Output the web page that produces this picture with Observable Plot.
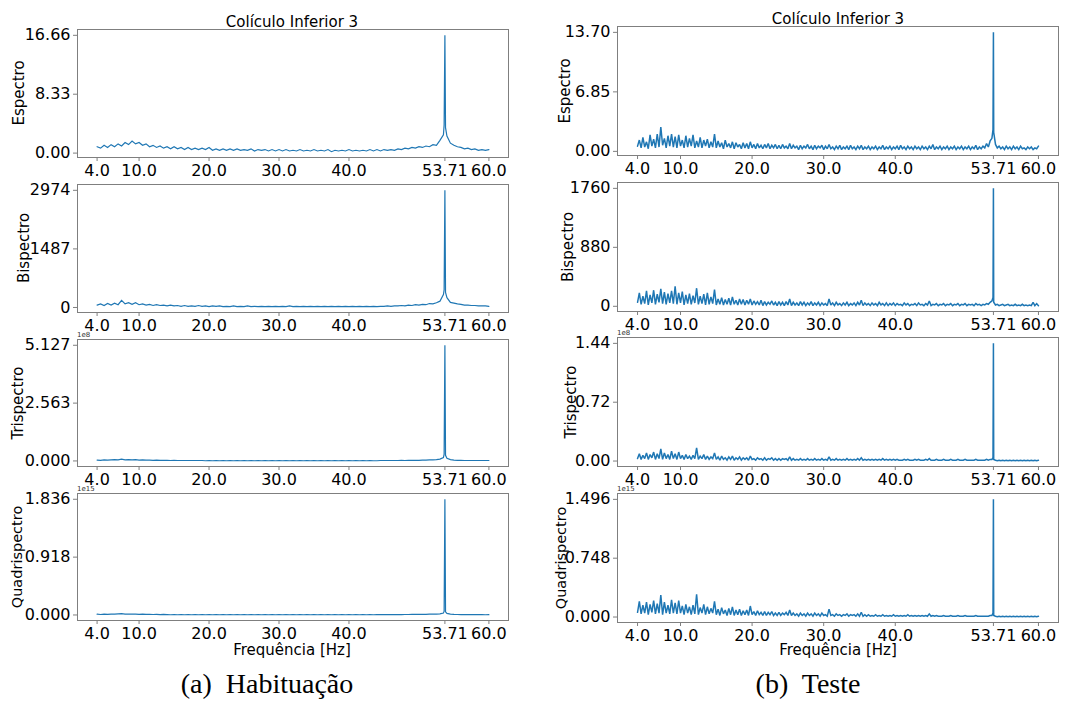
<!DOCTYPE html>
<html><head><meta charset="utf-8">
<script src="https://cdn.jsdelivr.net/npm/d3@7"></script>
<script src="https://cdn.jsdelivr.net/npm/@observablehq/plot@0.6"></script>
<style>
body{margin:0;background:#fff;}
#fig{position:relative;width:1073px;height:704px;font-family:"DejaVu Sans",sans-serif;overflow:hidden;background:#fff}
.abs{position:absolute;white-space:pre;line-height:1;transform:translate(-50%,-50%)}
.rot{transform:translate(-50%,-50%) rotate(-90deg)}
.panel{position:absolute}
</style></head><body><div id="fig"></div>
<script>
// ---------------- DATA ----------------
const freqStart = 4.0;
const stepHab = 0.5;    // Hz between samples, left column (Habituação)
const stepTst = 0.25;   // Hz between samples, right column (Teste)
const peakFreqHab = [53.6, 53.71, 53.8];
const peakFreqTst = [53.65, 53.71];

// Habituação (left column)
const habEspectro = [
0.9,0.7,1.1,0.8,1.2,0.9,1.3,1.0,1.5,1.2,
1.7,1.3,1.5,1.1,1.3,0.9,1.1,0.8,1.0,0.7,
0.9,0.6,0.9,0.6,0.8,0.5,0.8,0.5,0.7,0.5,
0.7,0.5,0.8,0.4,0.6,0.4,0.6,0.4,0.6,0.4,
0.6,0.4,0.5,0.4,0.6,0.3,0.5,0.4,0.5,0.3,
0.5,0.3,0.5,0.3,0.5,0.3,0.4,0.3,0.5,0.3,
0.4,0.3,0.5,0.3,0.4,0.3,0.5,0.2,0.4,0.3,
0.4,0.3,0.5,0.3,0.4,0.3,0.4,0.3,0.5,0.3,
0.5,0.3,0.5,0.4,0.5,0.4,0.6,0.5,0.7,0.6,
0.8,0.7,0.9,0.8,1.0,0.9,1.2,1.1,1.8,2.6,
2.4,1.4,1.1,0.9,0.8,0.6,0.7,0.5,0.6,0.4,
0.5,0.4,0.5];
const habEspectroPeak = [4.0, 16.66, 3.6];

const habBispectro = [
60,90,50,100,60,110,70,180,90,120,
80,120,70,90,60,80,50,70,50,60,
40,60,40,50,30,50,30,40,30,50,
30,40,20,40,30,40,20,30,20,40,
20,30,20,40,20,30,20,30,20,30,
20,30,20,30,20,40,20,30,20,30,
20,30,20,30,20,30,20,30,20,30,
20,30,20,30,20,30,20,30,20,30,
20,30,30,40,30,40,40,50,40,60,
50,70,60,80,70,100,90,120,160,330,
250,130,110,90,80,60,60,50,50,40,
40,40,30];
const habBispectroPeak = [450, 2974, 380];

const habTrispectro = [ // ×1e8
0.04,0.03,0.05,0.04,0.05,0.06,0.05,0.08,0.05,0.06,
0.05,0.06,0.04,0.05,0.04,0.04,0.03,0.04,0.03,0.03,
0.03,0.02,0.03,0.02,0.02,0.02,0.02,0.02,0.02,0.02,
0.02,0.01,0.02,0.01,0.02,0.01,0.02,0.01,0.02,0.01,
0.02,0.01,0.02,0.01,0.02,0.01,0.02,0.01,0.02,0.01,
0.02,0.01,0.02,0.01,0.02,0.01,0.02,0.01,0.02,0.01,
0.02,0.01,0.02,0.01,0.02,0.01,0.02,0.01,0.02,0.01,
0.02,0.01,0.02,0.01,0.02,0.01,0.02,0.01,0.02,0.01,
0.01,0.02,0.02,0.02,0.02,0.02,0.02,0.03,0.02,0.03,
0.03,0.03,0.03,0.04,0.04,0.05,0.05,0.06,0.08,0.15,
0.12,0.06,0.04,0.03,0.03,0.02,0.02,0.02,0.02,0.02,
0.02,0.02,0.02];
const habTrispectroPeak = [0.30, 5.127, 0.25];

const habQuadrispectro = [ // ×1e15
0.012,0.008,0.015,0.010,0.014,0.012,0.016,0.020,0.014,0.015,
0.012,0.014,0.010,0.012,0.009,0.010,0.008,0.009,0.007,0.008,
0.006,0.004,0.006,0.004,0.006,0.004,0.006,0.004,0.006,0.004,
0.006,0.004,0.006,0.004,0.006,0.004,0.006,0.004,0.006,0.004,
0.006,0.004,0.006,0.004,0.006,0.004,0.006,0.004,0.006,0.004,
0.006,0.004,0.006,0.004,0.006,0.004,0.006,0.004,0.006,0.004,
0.006,0.004,0.006,0.004,0.006,0.004,0.006,0.004,0.006,0.004,
0.006,0.004,0.006,0.004,0.006,0.004,0.006,0.004,0.006,0.004,
0.005,0.005,0.006,0.005,0.006,0.006,0.007,0.007,0.008,0.008,
0.009,0.009,0.010,0.010,0.011,0.012,0.013,0.014,0.018,0.030,
0.025,0.014,0.010,0.008,0.007,0.006,0.006,0.005,0.005,0.005,
0.005,0.004,0.005];
const habQuadrispectroPeak = [0.06, 1.836, 0.05];

// Teste (right column)
const tstEspectro = [
0.6,1.3,0.4,1.6,0.5,1.1,0.3,1.9,0.6,1.4,0.4,2.0,0.5,2.8,0.7,1.5,0.4,1.8,0.6,2.0,
0.5,1.7,0.4,1.9,0.6,1.3,0.4,1.8,0.5,1.5,0.6,1.9,0.4,1.2,0.5,1.6,0.4,1.3,0.6,1.4,
0.4,1.1,0.5,2.0,0.4,1.2,0.5,1.0,0.3,1.3,0.5,0.9,0.4,1.1,0.3,1.0,0.5,0.8,0.3,1.0,
0.4,0.9,0.3,1.1,0.4,0.8,0.3,0.9,0.4,0.7,0.3,0.8,0.4,0.9,0.3,0.7,0.4,0.8,0.3,0.7,
0.3,0.8,0.4,0.6,0.3,0.9,0.3,0.7,0.4,0.6,0.2,0.7,0.3,0.6,0.4,0.8,0.3,0.6,0.2,0.7,
0.3,0.6,0.4,0.7,0.2,0.6,0.3,0.8,0.3,0.5,0.2,0.6,0.3,0.7,0.2,0.5,0.3,0.6,0.2,0.7,
0.3,0.5,0.2,0.6,0.3,0.7,0.2,0.5,0.3,0.6,0.2,0.5,0.3,0.6,0.2,0.5,0.3,0.7,0.2,0.5,
0.3,0.6,0.2,0.5,0.3,0.6,0.2,0.7,0.3,0.5,0.2,0.6,0.3,0.5,0.2,0.6,0.3,0.5,0.2,0.6,
0.3,0.5,0.2,0.6,0.3,0.8,0.2,0.5,0.3,0.6,0.2,0.5,0.3,0.6,0.2,0.5,0.3,0.6,0.2,0.5,
0.3,0.6,0.2,0.5,0.3,0.6,0.2,0.5,0.3,0.7,0.2,0.5,0.3,0.6,0.4,0.9,0.5,1.2,1.5,2.2,
0.8,0.4,0.6,0.3,0.5,0.2,0.6,0.3,0.5,0.2,0.6,0.3,0.5,0.2,0.6,0.3,0.4,0.2,0.5,0.3,
0.5,0.2,0.4,0.3,0.6];
const tstEspectroPeak = [2.5, 13.70];

const tstBispectro = [
60,200,30,150,40,230,20,170,50,240,30,180,60,260,40,210,30,190,50,230,
40,300,30,200,50,220,20,170,40,190,30,160,50,270,30,150,40,180,20,200,
30,140,40,250,20,110,30,130,20,100,30,120,20,140,30,90,20,110,30,100,
20,90,30,110,20,80,30,70,20,90,10,70,20,60,30,80,20,60,10,70,
20,60,10,70,20,110,10,60,20,50,10,70,20,60,10,50,20,70,10,50,
20,60,10,50,20,40,10,110,20,50,10,60,20,40,10,50,20,60,10,40,
20,50,10,60,20,90,10,50,20,40,10,50,20,40,10,60,20,40,10,50,
10,40,20,50,10,40,20,30,10,50,20,40,10,30,20,40,10,50,20,30,
10,40,20,80,10,30,20,40,10,30,20,40,10,30,20,40,10,30,20,40,
10,30,20,40,10,30,20,30,10,40,20,30,10,30,20,40,30,60,80,60,
20,30,10,20,30,10,20,30,10,20,10,30,10,20,10,30,10,20,10,20,
10,60,10,40,10];
const tstBispectroPeak = [130, 1760];

const tstTrispectro = [ // ×1e8
0.03,0.09,0.02,0.07,0.03,0.10,0.02,0.08,0.04,0.11,0.02,0.09,0.03,0.15,0.02,0.10,0.03,0.08,0.02,0.12,
0.03,0.09,0.02,0.11,0.03,0.07,0.02,0.08,0.03,0.06,0.02,0.07,0.03,0.16,0.02,0.06,0.03,0.08,0.02,0.06,
0.02,0.05,0.03,0.10,0.02,0.05,0.01,0.06,0.02,0.04,0.01,0.05,0.02,0.06,0.01,0.04,0.02,0.05,0.01,0.04,
0.02,0.04,0.01,0.06,0.02,0.03,0.01,0.04,0.02,0.03,0.01,0.04,0.01,0.03,0.02,0.04,0.01,0.03,0.01,0.03,
0.01,0.03,0.02,0.03,0.01,0.05,0.01,0.03,0.01,0.02,0.01,0.03,0.01,0.02,0.01,0.03,0.01,0.02,0.01,0.03,
0.01,0.02,0.01,0.03,0.01,0.02,0.01,0.05,0.01,0.02,0.01,0.03,0.01,0.02,0.01,0.02,0.01,0.03,0.01,0.02,
0.01,0.02,0.01,0.03,0.01,0.04,0.01,0.02,0.01,0.02,0.01,0.02,0.01,0.02,0.01,0.02,0.01,0.03,0.01,0.02,
0.01,0.02,0.01,0.02,0.01,0.02,0.01,0.01,0.01,0.02,0.01,0.02,0.01,0.01,0.01,0.02,0.01,0.02,0.01,0.01,
0.01,0.02,0.01,0.03,0.01,0.01,0.01,0.02,0.01,0.01,0.01,0.02,0.01,0.01,0.01,0.02,0.01,0.01,0.01,0.02,
0.01,0.01,0.01,0.02,0.01,0.01,0.01,0.01,0.01,0.02,0.01,0.01,0.01,0.01,0.01,0.02,0.01,0.02,0.02,0.02,
0.01,0.005,0.01,0.005,0.01,0.005,0.01,0.005,0.01,0.005,0.01,0.005,0.01,0.005,0.01,0.005,0.01,0.005,0.01,0.005,
0.01,0.005,0.01,0.005,0.01];
const tstTrispectroPeak = [0.04, 1.44];

const tstQuadrispectro = [ // ×1e15
0.06,0.20,0.04,0.15,0.05,0.19,0.03,0.16,0.06,0.21,0.04,0.17,0.05,0.28,0.03,0.19,0.05,0.15,0.04,0.22,
0.05,0.18,0.04,0.21,0.05,0.14,0.03,0.16,0.05,0.13,0.03,0.15,0.04,0.29,0.03,0.12,0.05,0.16,0.03,0.13,
0.04,0.11,0.05,0.20,0.03,0.10,0.02,0.12,0.04,0.09,0.02,0.11,0.03,0.13,0.02,0.09,0.03,0.10,0.02,0.08,
0.03,0.09,0.02,0.14,0.03,0.07,0.02,0.08,0.03,0.06,0.02,0.07,0.02,0.06,0.03,0.07,0.02,0.05,0.02,0.06,
0.02,0.05,0.03,0.06,0.02,0.09,0.02,0.05,0.02,0.04,0.01,0.05,0.02,0.04,0.01,0.05,0.02,0.04,0.01,0.05,
0.02,0.04,0.01,0.05,0.02,0.03,0.01,0.10,0.02,0.03,0.01,0.04,0.02,0.03,0.01,0.03,0.02,0.04,0.01,0.03,
0.02,0.03,0.01,0.04,0.01,0.06,0.01,0.03,0.01,0.03,0.01,0.02,0.01,0.03,0.01,0.02,0.01,0.03,0.01,0.02,
0.01,0.02,0.01,0.03,0.01,0.02,0.01,0.02,0.01,0.02,0.01,0.03,0.01,0.02,0.01,0.02,0.01,0.02,0.01,0.02,
0.01,0.02,0.01,0.04,0.01,0.02,0.01,0.02,0.01,0.01,0.01,0.02,0.01,0.01,0.01,0.02,0.01,0.01,0.01,0.02,
0.01,0.01,0.01,0.02,0.01,0.01,0.01,0.01,0.01,0.02,0.01,0.01,0.01,0.01,0.01,0.01,0.01,0.02,0.02,0.02,
0.01,0.005,0.01,0.005,0.01,0.005,0.01,0.005,0.01,0.005,0.01,0.005,0.01,0.005,0.01,0.005,0.01,0.005,0.01,0.005,
0.01,0.005,0.01,0.005,0.01];
const tstQuadrispectroPeak = [0.05, 1.496];

// Tick values and labels
const xTickValues = [4, 10, 20, 30, 40, 53.71, 60];
const xTickLabels = ["4.0", "10.0", "20.0", "30.0", "40.0", "53.71", "60.0"];
const yTicksHabEsp = [0, 8.33, 16.66],   yLabelsHabEsp = ["0.00", "8.33", "16.66"];
const yTicksHabBi  = [0, 1487, 2974],    yLabelsHabBi  = ["0", "1487", "2974"];
const yTicksHabTri = [0, 2.563, 5.127],  yLabelsHabTri = ["0.000", "2.563", "5.127"];
const yTicksHabQu  = [0, 0.918, 1.836],  yLabelsHabQu  = ["0.000", "0.918", "1.836"];
const yTicksTstEsp = [0, 6.85, 13.70],   yLabelsTstEsp = ["0.00", "6.85", "13.70"];
const yTicksTstBi  = [0, 880, 1760],     yLabelsTstBi  = ["0", "880", "1760"];
const yTicksTstTri = [0, 0.72, 1.44],    yLabelsTstTri = ["0.00", "0.72", "1.44"];
const yTicksTstQu  = [0, 0.748, 1.496],  yLabelsTstQu  = ["0.000", "0.748", "1.496"];

const rowNames = ["Espectro", "Bispectro", "Trispectro", "Quadrispectro"];
const rowOffsets = [null, null, "1e8", "1e15"];
const titleText = "Colículo Inferior 3";
const xLabelText = "Frequência [Hz]";
const captions = ["(a)  Habituação", "(b)  Teste"];

// ---------------- LAYOUT ----------------
const cols = [
  {x0: 77, x1: 508, rows: [[29,157],[184,312],[339,466],[493,620]], ylabX: [19,23.5,18,17], cx: 292, titleY: 22, capX: 267, lw: 1.2},
  {x0: 617, x1: 1058, rows: [[26,155],[182,311],[337,466],[493,622]], ylabX: [565,567.5,571,561], cx: 838, titleY: 19, capX: 808, lw: 1.5}
];
const series = [
  [[habEspectro, habEspectroPeak, yTicksHabEsp, yLabelsHabEsp],
   [habBispectro, habBispectroPeak, yTicksHabBi, yLabelsHabBi],
   [habTrispectro, habTrispectroPeak, yTicksHabTri, yLabelsHabTri],
   [habQuadrispectro, habQuadrispectroPeak, yTicksHabQu, yLabelsHabQu]],
  [[tstEspectro, tstEspectroPeak, yTicksTstEsp, yLabelsTstEsp],
   [tstBispectro, tstBispectroPeak, yTicksTstBi, yLabelsTstBi],
   [tstTrispectro, tstTrispectroPeak, yTicksTstTri, yLabelsTstTri],
   [tstQuadrispectro, tstQuadrispectroPeak, yTicksTstQu, yLabelsTstQu]]
];
const steps = [stepHab, stepTst];
const peakFreqs = [peakFreqHab, peakFreqTst];

const fig = document.getElementById("fig");
function addText(txt, x, y, style, cls) {
  const d = document.createElement("div");
  d.className = "abs" + (cls ? " " + cls : "");
  d.textContent = txt;
  d.style.left = x + "px"; d.style.top = y + "px";
  Object.assign(d.style, style);
  fig.appendChild(d);
  return d;
}
const xLabMap = new Map(xTickValues.map((v, i) => [v, xTickLabels[i]]));
const mL = 70, mR = 8, mT = 8, mB = 34;

cols.forEach((col, c) => {
  series[c].forEach(([vals, peak, yt, yl], r) => {
    const data = vals.map((v, i) => ({x: freqStart + i * steps[c], y: v}))
      .concat(peak.map((v, i) => ({x: peakFreqs[c][i], y: v})))
      .sort((a, b) => a.x - b.x);
    const [xmin, xmax] = d3.extent(data, d => d.x);
    const [ymin, ymax] = d3.extent(data, d => d.y);
    const px = 0.05 * (xmax - xmin), py = 0.05 * (ymax - ymin);
    const yMap = new Map(yt.map((v, i) => [v, yl[i]]));
    const [fy0, fy1] = col.rows[r];
    const W = col.x1 - col.x0 + mL + mR, H = fy1 - fy0 + mT + mB;
    const chart = Plot.plot({
      width: W, height: H, marginLeft: mL, marginRight: mR, marginTop: mT, marginBottom: mB,
      style: {fontFamily: "DejaVu Sans", fontSize: "16px", color: "#000", background: "transparent", overflow: "visible"},
      x: {domain: [xmin - px, xmax + px]},
      y: {domain: [ymin - py, ymax + py]},
      marks: [
        Plot.lineY(data, {x: "x", y: "y", stroke: "#1f77b4", strokeWidth: col.lw, strokeLinejoin: "miter", strokeMiterlimit: 2}),
        Plot.frame({stroke: "#7f7f7f", strokeWidth: 1}),
        Plot.axisX(xTickValues, {tickFormat: d => xLabMap.get(d), tickSize: 4, tickPadding: 3, stroke: "#7f7f7f", fill: "#000", label: null}),
        Plot.axisY(yt, {tickFormat: d => yMap.get(d), tickSize: 4, tickPadding: 3, stroke: "#7f7f7f", fill: "#000", label: null})
      ]
    });
    chart.classList.add("panel");
    chart.style.left = (col.x0 - mL) + "px";
    chart.style.top = (fy0 - mT) + "px";
    fig.appendChild(chart);
    addText(rowNames[r], col.ylabX[r], (fy0 + fy1) / 2, {fontSize: r === 3 ? "14.5px" : "15px"}, "rot");
    if (rowOffsets[r]) {
      const o = addText(rowOffsets[r], col.x0, fy0 - 4, {fontSize: "7px", color: "#333"});
      o.style.transform = "translate(0,-50%)";
    }
  });
  addText(titleText, col.cx, col.titleY, {fontSize: "15px"});
  addText(xLabelText, col.cx, 650, {fontSize: "15px"});
  addText(captions[c], col.capX, 684, {fontSize: "28px", fontFamily: "'Liberation Serif', serif"});
});
</script></body></html>
